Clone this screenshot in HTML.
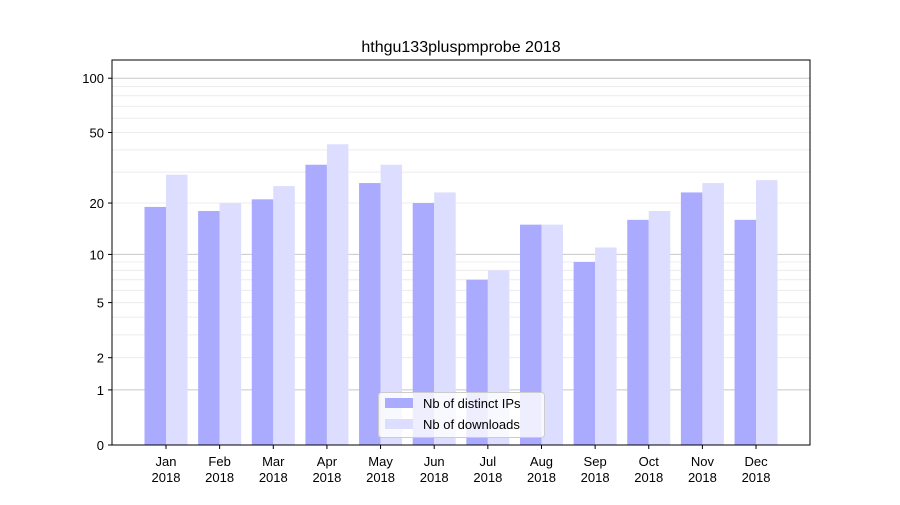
<!DOCTYPE html>
<html><head><meta charset="utf-8"><style>
body{margin:0;background:#fff}
svg{font-family:"Liberation Sans","DejaVu Sans",sans-serif}
</style></head><body>
<svg id="chart" width="900" height="500" viewBox="0 0 900 500">
<text x="461" y="52" font-size="16" text-anchor="middle">hthgu133pluspmprobe 2018</text>
<g id="grid"></g><g id="bars"></g><g id="axes"></g>
</svg>
<script>
const months = ["Jan","Feb","Mar","Apr","May","Jun","Jul","Aug","Sep","Oct","Nov","Dec"];
const ips = [19,18,21,33,26,20,7,15,9,16,23,16];
const downloads = [29,20,25,43,33,23,8,15,11,18,26,27];
const yTicks = [0,1,2,5,10,20,50,100];
const majorGrid = [1,10,100];
const minorGrid = [2,3,4,5,6,7,8,9,20,30,40,50,60,70,80,90];
const NS="http://www.w3.org/2000/svg";
const L=112,R=810,T=60,B=445;
function y(v){return B-Math.log10(1+v)*183;}
function x(i){return 166+i*53.64;}
function mk(tag,attrs,parent){const e=document.createElementNS(NS,tag);for(const k in attrs)e.setAttribute(k,attrs[k]);document.getElementById(parent).appendChild(e);return e;}
minorGrid.forEach(v=>{const l=mk('line',{x1:L,x2:R,y1:y(v),y2:y(v),stroke:'#ececec','stroke-width':1},'grid');

});
majorGrid.forEach(v=>{const l=mk('line',{x1:L,x2:R,y1:y(v),y2:y(v),stroke:'#c8c8c8','stroke-width':1},'grid');

});
const bw=21.5;
months.forEach((m,i)=>{
 const a=mk('rect',{x:x(i)-bw,y:y(ips[i]),width:bw,height:B-y(ips[i]),fill:'#aaaaff'},'bars');
 
 
 const b=mk('rect',{x:x(i),y:y(downloads[i]),width:bw,height:B-y(downloads[i]),fill:'#ddddff'},'bars');
 
 
 const t=mk('line',{x1:x(i),x2:x(i),y1:B,y2:B+4,stroke:'#000'},'axes');
 
 
 const lb=mk('text',{x:x(i),y:B+21,'font-size':13,'text-anchor':'middle'},'axes');
 
 
 lb.innerHTML='<tspan x="'+x(i)+'">'+m+'</tspan><tspan x="'+x(i)+'" dy="16">2018</tspan>';
});
yTicks.forEach(v=>{
 const t=mk('line',{x1:L-4,x2:L,y1:y(v),y2:y(v),stroke:'#000'},'axes');
 
 
 const lb=mk('text',{x:L-8,y:y(v)+5,'font-size':13,'text-anchor':'end'},'axes');
 
 
 lb.textContent=v;
});
const fr=mk('rect',{x:L,y:T,width:R-L,height:B-T,fill:'none',stroke:'#000','stroke-width':1},'axes');


const lg=mk('g',{},'axes');


lg.innerHTML='<rect x="378.5" y="392.5" width="166" height="45" rx="3" fill="#fff" fill-opacity="0.8" stroke="#ccc"/>'+
'<rect x="385" y="398" width="28" height="10" fill="#aaaaff"/>'+
'<text x="423" y="408" font-size="13">Nb of distinct IPs</text>'+
'<rect x="385" y="419" width="28" height="10" fill="#ddddff"/>'+
'<text x="423" y="429" font-size="13">Nb of downloads</text>';
</script>
</body></html>
